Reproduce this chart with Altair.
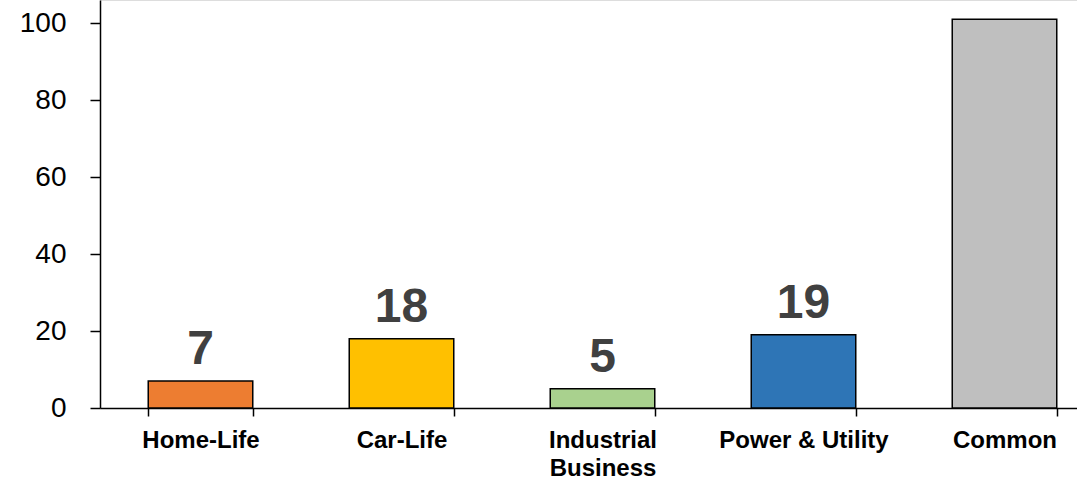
import altair as alt
import pandas as pd

# Segment counts per business area
categories = ["Home-Life", "Car-Life", "Industrial\nBusiness", "Power & Utility", "Common"]
values = [7, 18, 5, 19, 101]
labels = ["7", "18", "5", "19", ""]
colors = ["#ED7D31", "#FFC000", "#A9D18E", "#2E75B6", "#BFBFBF"]

df = pd.DataFrame({"category": categories, "value": values, "label": labels})

FONT = "Liberation Sans"

x_enc = alt.X(
    "category:N",
    sort=categories,
    scale=alt.Scale(range=[0, 1005], paddingInner=0.48, paddingOuter=0.24),
    axis=alt.Axis(
        title=None,
        labelAngle=0,
        labelFont=FONT,
        labelFontSize=24,
        labelFontWeight="bold",
        labelColor="#000000",
        labelPadding=12,
        labelLineHeight=28,
        labelExpr="split(datum.label, '\\n')",
        tickBand="extent",
        tickSize=8,
        tickColor="#000000",
        tickWidth=1.5,
        domainColor="#000000",
        domainWidth=1.5,
    ),
)

y_scale = alt.Scale(domain=[0, 106], nice=False)

bars = alt.Chart(df).mark_bar(stroke="#000000", strokeWidth=1.5).encode(
    x=x_enc,
    y=alt.Y(
        "value:Q",
        scale=y_scale,
        axis=alt.Axis(
            title=None,
            values=[0, 20, 40, 60, 80, 100],
            grid=False,
            labelFont=FONT,
            labelFontSize=28,
            labelColor="#000000",
            labelPadding=24,
            tickSize=10,
            tickColor="#000000",
            tickWidth=1.5,
            domainColor="#000000",
            domainWidth=1.5,
        ),
    ),
    color=alt.Color(
        "category:N",
        scale=alt.Scale(domain=categories, range=colors),
        legend=None,
    ),
)

text = alt.Chart(df).mark_text(
    font=FONT,
    fontSize=48,
    fontWeight="bold",
    color="#404040",
    baseline="alphabetic",
    dy=-17,
).encode(
    x=alt.X("category:N", sort=categories),
    y=alt.Y("value:Q", scale=y_scale),
    text="label:N",
)

chart = (
    alt.layer(bars, text)
    .properties(
        width=977,
        height=408,
        autosize=alt.AutoSizeParams(type="none"),
        padding={"left": 100, "top": 0, "right": 0, "bottom": 69},
    )
    .configure_view(stroke=None)
    .configure(background="#ffffff")
)

chart.save("out.html", embed_options={"renderer": "svg", "actions": False})
